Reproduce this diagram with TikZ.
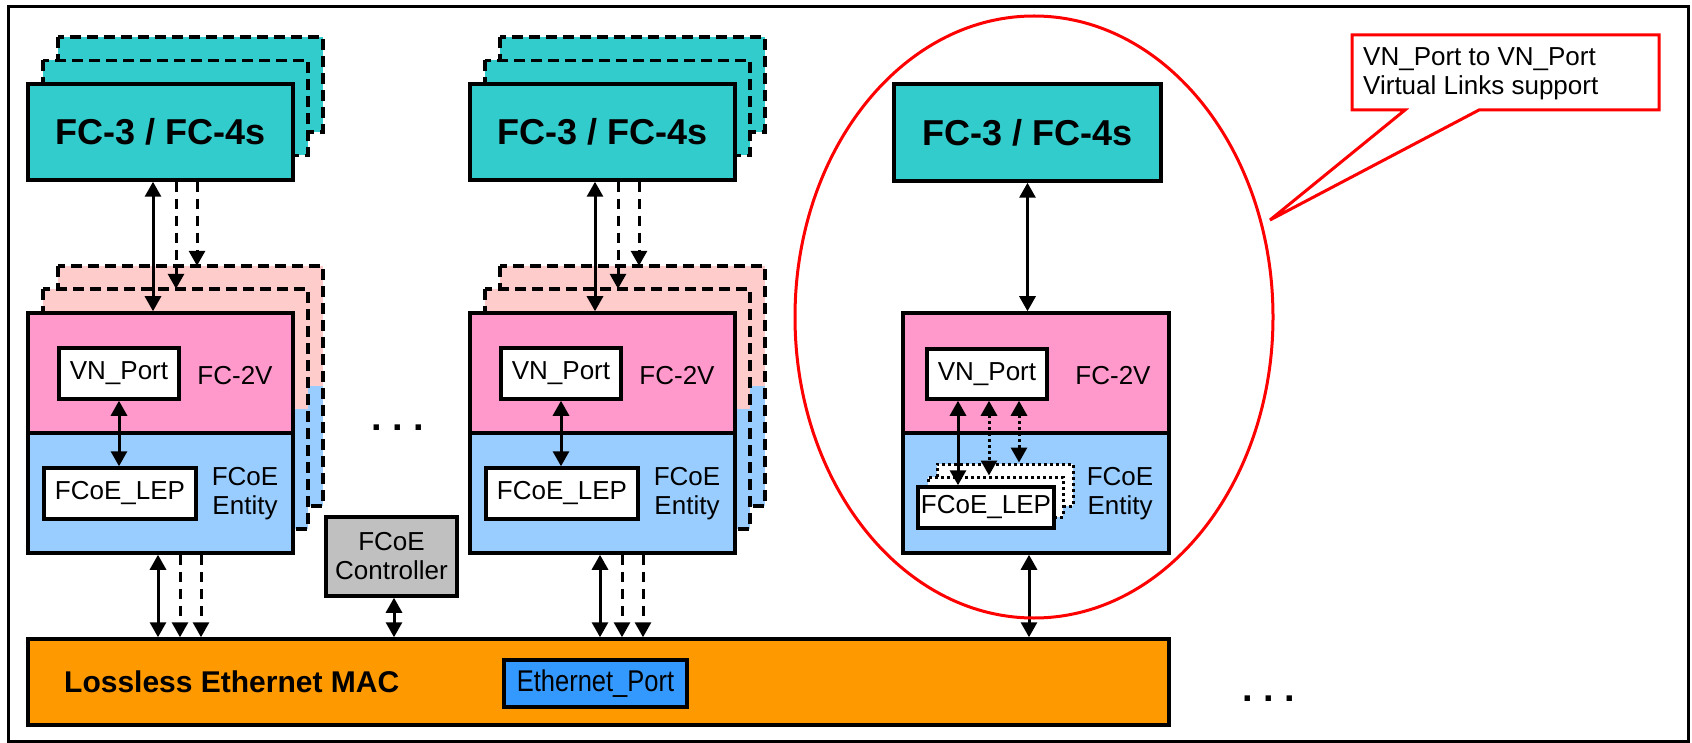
\documentclass[tikz,border=0pt]{standalone}
\usepackage{fontspec}
\setmainfont{Liberation Sans}
\usetikzlibrary{arrows.meta}
\definecolor{tealc}{HTML}{33CCCC}
\definecolor{pinkc}{HTML}{FF99CC}
\definecolor{lpinkc}{HTML}{FFCCCC}
\definecolor{bluec}{HTML}{99CCFF}
\definecolor{orangec}{HTML}{FF9900}
\definecolor{grayc}{HTML}{C0C0C0}
\definecolor{ethc}{HTML}{3399FF}
\begin{document}
\begin{tikzpicture}[x=1pt,y=-1pt,
  solidbox/.style={draw, line width=3.5pt, inner sep=0pt},
  plainfill/.style={inner sep=0pt, draw=none},
  dsh/.style={line width=3.5pt, dash pattern=on 11pt off 6pt},
  bigbold/.style={font=\fontsize{36}{40}\selectfont\bfseries},
  lbl/.style={font=\fontsize{26}{29}\selectfont, align=center, inner sep=0pt},
  dbl/.style={line width=3pt, {Triangle[width=16pt,length=15pt]}-{Triangle[width=16pt,length=15pt]}},
  sgl/.style={line width=3pt, dash pattern=on 10pt off 7pt, -{Triangle[width=16pt,length=15pt]}},
  dotarr/.style={line width=3pt, dash pattern=on 3pt off 3pt, {Triangle[width=16pt,length=15pt]}-{Triangle[width=16pt,length=15pt]}},
  dots/.style={font=\fontsize{38}{40}\selectfont\bfseries, anchor=base, inner sep=0pt}
]
\useasboundingbox (0,0) rectangle (1692,743);
\draw[line width=3pt] (8,7) rectangle (1688,741);

% ---------- columns 1 and 2 ----------
\foreach \o/\s in {0/a,442/b}{
  % stacked FC-3 boxes
  \node[plainfill, fill=tealc, minimum width=265pt, minimum height=95pt] (fc3r\s) at (190.5+\o,84.5) {};
  \draw[dsh] (58+\o,37) rectangle (323+\o,132);
  \node[plainfill, fill=tealc, minimum width=265pt, minimum height=95pt] (fc3m\s) at (175.5+\o,108) {};
  \draw[dsh] (43+\o,60.5) rectangle (308+\o,155.5);
  \node[solidbox, fill=tealc, minimum width=265pt, minimum height=96pt, bigbold] (fc3\s) at (160.5+\o,132) {FC-3 / FC-4s};
  % stacked FC-2V / FCoE Entity boxes
  \node[plainfill, fill=lpinkc, minimum width=265pt, minimum height=120pt] (p2r\s) at (190.5+\o,326) {};
  \node[plainfill, fill=bluec, minimum width=265pt, minimum height=120pt] (b2r\s) at (190.5+\o,446) {};
  \draw[dsh] (58+\o,266) rectangle (323+\o,506);
  \node[plainfill, fill=lpinkc, minimum width=265pt, minimum height=120pt] (p2m\s) at (175.5+\o,349) {};
  \node[plainfill, fill=bluec, minimum width=265pt, minimum height=120pt] (b2m\s) at (175.5+\o,469) {};
  \draw[dsh] (43+\o,289) rectangle (308+\o,529);
  \node[solidbox, fill=pinkc, minimum width=265pt, minimum height=120pt] (fc2v\s) at (160.5+\o,373) {};
  \node[solidbox, fill=bluec, minimum width=265pt, minimum height=120pt] (ent\s) at (160.5+\o,493) {};
  \node[solidbox, fill=white, minimum width=120pt, minimum height=51pt, lbl] (vnp\s) at (119+\o,373.5) {VN\_Port};
  \node[solidbox, fill=white, minimum width=152pt, minimum height=51pt, lbl] (lep\s) at (120+\o,493.5) {FCoE\_LEP};
  \node[lbl] (fc2vl\s) at (235+\o,376) {FC-2V};
  \node[lbl] (entl\s) at (245+\o,494) {FCoE\\Entity};
  % connectors
  \draw[dbl] ([xshift=-7.5pt]fc3\s.south) -- ([xshift=-7.5pt]fc3\s.south |- fc2v\s.north);
  \draw[sgl] ([xshift=15.5pt]fc3\s.south) -- ([xshift=15.5pt]fc3\s.south |- p2m\s.north);
  \draw[sgl] ([xshift=36.5pt]fc3\s.south) -- ([xshift=36.5pt]fc3\s.south |- p2r\s.north);
  \draw[dbl] (vnp\s.south) -- (vnp\s.south |- lep\s.north);
}

% ---------- column 3 ----------
\node[solidbox, fill=tealc, minimum width=267pt, minimum height=97pt, bigbold] (fc3c) at (1027.5,132.5) {FC-3 / FC-4s};
\node[solidbox, fill=pinkc, minimum width=266pt, minimum height=120pt] (fc2vc) at (1036,373) {};
\node[solidbox, fill=bluec, minimum width=266pt, minimum height=120pt] (entc) at (1036,493) {};
\node[solidbox, fill=white, minimum width=120pt, minimum height=50pt, lbl] (vnpc) at (987,374) {VN\_Port};
\node[lbl] (fc2vlc) at (1113,376) {FC-2V};
\node[lbl] (entlc) at (1120,494) {FCoE\\Entity};
\node[draw, fill=white, line width=3pt, dash pattern=on 3pt off 3pt, inner sep=0pt, minimum width=136pt, minimum height=42pt] (lepr) at (1005,485) {};
\node[draw, fill=white, line width=3pt, dash pattern=on 3pt off 3pt, inner sep=0pt, minimum width=135pt, minimum height=40pt] (lepm) at (995.5,497) {};
\node[solidbox, fill=white, minimum width=136pt, minimum height=41pt, lbl] (lepc) at (986,507.5) {FCoE\_LEP};
\draw[dbl] (fc3c.south) -- (fc3c.south |- fc2vc.north);
\draw[dbl] ([xshift=-29pt]vnpc.south) -- ([xshift=-29pt]vnpc.south |- lepc.north);
\draw[dotarr] ([xshift=2pt]vnpc.south) -- ([xshift=2pt]vnpc.south |- lepm.north);
\draw[dotarr] ([xshift=32pt]vnpc.south) -- ([xshift=32pt]vnpc.south |- lepr.north);

% ---------- controller and MAC ----------
\node[solidbox, fill=grayc, minimum width=131pt, minimum height=79pt, lbl] (ctl) at (391.5,556.5) {FCoE\\Controller};
\node[solidbox, fill=orangec, minimum width=1141pt, minimum height=86pt] (mac) at (598.5,682) {};
\node[anchor=west, inner sep=0pt, font=\fontsize{30}{34}\selectfont\bfseries] (macl) at (64,682) {Lossless Ethernet MAC};
\node[solidbox, fill=ethc, minimum width=183pt, minimum height=47pt] (eth) at (595.5,683.5) {\scalebox{0.85}[1]{\fontsize{30}{32}\selectfont Ethernet\_Port}};

\foreach \s in {a,b}{
  \draw[dbl] ([xshift=-2.5pt]ent\s.south) -- ([xshift=-2.5pt]ent\s.south |- mac.north);
  \draw[sgl] ([xshift=19.5pt]ent\s.south) -- ([xshift=19.5pt]ent\s.south |- mac.north);
  \draw[sgl] ([xshift=40.5pt]ent\s.south) -- ([xshift=40.5pt]ent\s.south |- mac.north);
}
\draw[dbl] ([xshift=2.5pt]ctl.south) -- ([xshift=2.5pt]ctl.south |- mac.north);
\draw[dbl] ([xshift=-7pt]entc.south) -- ([xshift=-7pt]entc.south |- mac.north);

% ---------- ellipse and callout ----------
\draw[red, line width=3pt] (1034,317) ellipse [x radius=239pt, y radius=301pt];
\draw[red, line width=3pt, fill=white] (1352,35) -- (1659,35) -- (1659,110) -- (1479,110) -- (1270,220) -- (1405,110) -- (1352,110) -- cycle;
\node[anchor=west, align=left, inner sep=0pt, font=\fontsize{26}{29}\selectfont] (callt) at (1363,74) {VN\_Port to VN\_Port\\Virtual Links support};

\node[dots] (dots1) at (398,430) {.\ .\ .};
\node[dots] (dots2) at (1269,701) {.\ .\ .};
\end{tikzpicture}
\end{document}
